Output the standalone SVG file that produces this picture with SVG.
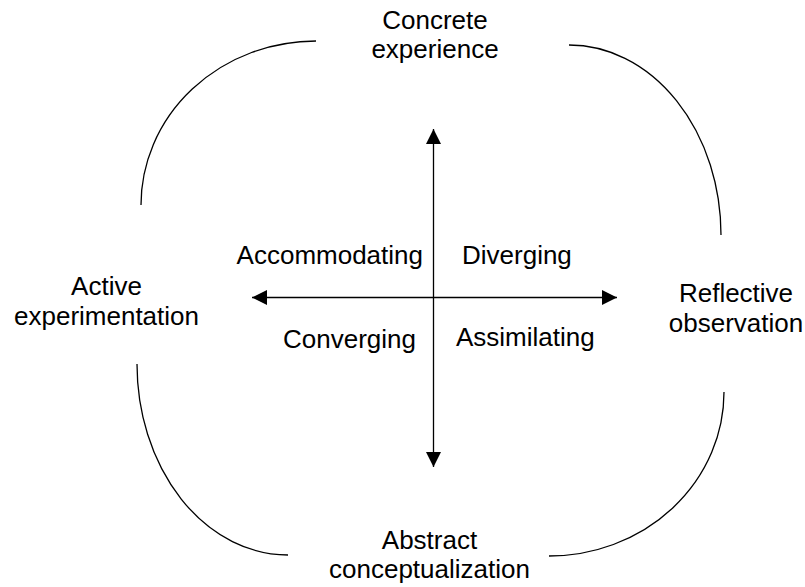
<svg xmlns="http://www.w3.org/2000/svg" width="805" height="587" viewBox="0 0 805 587">
  <style>
    .lbl { font-family: "Liberation Sans", Arial, sans-serif; font-size: 26px; fill: #000; }
    .mid { text-anchor: middle; }
    .arc { fill: none; stroke: #000; stroke-width: 1.3; }
    .axis { fill: none; stroke: #000; stroke-width: 1.3; }
  </style>
  <defs>
    <marker id="head" viewBox="0 0 15 15" refX="15" refY="7.5" markerWidth="15" markerHeight="15" markerUnits="userSpaceOnUse" orient="auto-start-reverse">
      <path d="M0,0 L15,7.5 L0,15 Z" fill="#000"/>
    </marker>
  </defs>
  <rect width="805" height="587" fill="#fff"/>

  <!-- cycle arcs between the four stages -->
  <g id="connectors">
    <path class="arc" d="M141,205 A175,164 0 0 1 316,41"/>
    <path class="arc" d="M569,45 A152,190 0 0 1 721,235"/>
    <path class="arc" d="M724,392 A175,164 0 0 1 549,556"/>
    <path class="arc" d="M288,555 A151,191 0 0 1 137,364"/>
    <!-- axes -->
    <line class="axis" x1="433.5" y1="129" x2="433.5" y2="467" marker-start="url(#head)" marker-end="url(#head)"/>
    <line class="axis" x1="252" y1="297.5" x2="617" y2="297.5" marker-start="url(#head)" marker-end="url(#head)"/>
  </g>

  <!-- stages -->
  <g id="concrete-experience">
    <text class="lbl mid" x="435" y="29">Concrete</text>
    <text class="lbl mid" x="435" y="58">experience</text>
  </g>
  <g id="active-experimentation">
    <text class="lbl mid" x="106.5" y="295">Active</text>
    <text class="lbl mid" x="106.5" y="325">experimentation</text>
  </g>
  <g id="reflective-observation">
    <text class="lbl mid" x="736" y="302">Reflective</text>
    <text class="lbl mid" x="736" y="332">observation</text>
  </g>
  <g id="abstract-conceptualization">
    <text class="lbl mid" x="429.5" y="549">Abstract</text>
    <text class="lbl mid" x="429.5" y="578">conceptualization</text>
  </g>

  <!-- learning styles -->
  <g id="accommodating">
    <text class="lbl" x="423" y="264" text-anchor="end">Accommodating</text>
  </g>
  <g id="diverging">
    <text class="lbl" x="462" y="264">Diverging</text>
  </g>
  <g id="converging">
    <text class="lbl" x="416" y="348" text-anchor="end">Converging</text>
  </g>
  <g id="assimilating">
    <text class="lbl" x="456" y="346">Assimilating</text>
  </g>
</svg>
